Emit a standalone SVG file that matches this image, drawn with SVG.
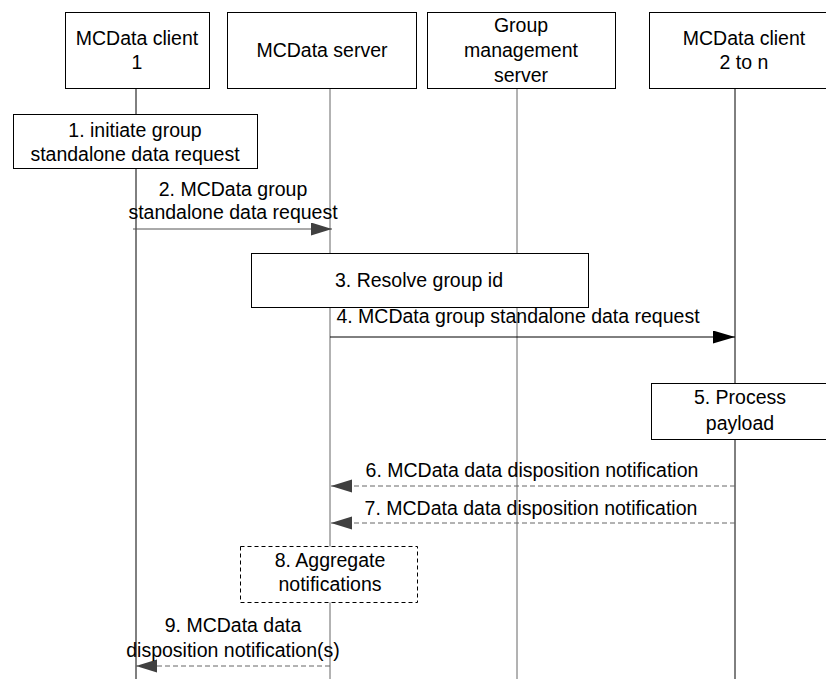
<svg xmlns="http://www.w3.org/2000/svg" width="826" height="679" viewBox="0 0 826 679">
<style>
text{font-family:"Liberation Sans",Arial,sans-serif;font-size:19.5px;fill:#000;text-anchor:middle}
.box{fill:#fff;stroke:#000;stroke-width:1}
.dbox{fill:#fff;stroke:#000;stroke-width:1;stroke-dasharray:4 3}
.life{stroke:#000;stroke-width:1;fill:none}
.lifeg{stroke:#666;stroke-width:1;fill:none}
.msg{stroke:#555;stroke-width:1;fill:none}
.msgb{stroke:#000;stroke-width:1;fill:none}
.dash{stroke:#666;stroke-width:1;fill:none;stroke-dasharray:5 3}
</style>
<defs>
<marker id="ag" markerWidth="22" markerHeight="14" refX="21" refY="6.5" orient="auto" markerUnits="userSpaceOnUse"><path d="M0,0 L21,6.5 L0,13 Z" fill="#404040"/></marker>
<marker id="ab" markerWidth="23" markerHeight="14" refX="22" refY="6.5" orient="auto" markerUnits="userSpaceOnUse"><path d="M0,0 L22,6.5 L0,13 Z" fill="#000"/></marker>
</defs>
<rect width="826" height="679" fill="#fff"/>
<g id="lifelines">
<line class="life" x1="136" y1="88" x2="136" y2="679"/>
<line class="lifeg" x1="330" y1="88" x2="330" y2="679"/>
<line class="lifeg" x1="517" y1="88" x2="517" y2="679"/>
<line class="life" x1="735" y1="88" x2="735" y2="679"/>
</g>
<g id="client1">
<rect class="box" x="65.5" y="12.5" width="144" height="76"/>
<text x="137" y="45">MCData client</text>
<text x="137" y="69">1</text>
</g>
<g id="server">
<rect class="box" x="227.5" y="12.5" width="189" height="76"/>
<text x="322" y="57">MCData server</text>
</g>
<g id="gms">
<rect class="box" x="427.5" y="12.5" width="188" height="76"/>
<text x="521" y="32">Group</text>
<text x="521" y="57">management</text>
<text x="521" y="82">server</text>
</g>
<g id="client2">
<rect class="box" x="649.5" y="12.5" width="190" height="76"/>
<text x="744" y="45">MCData client</text>
<text x="744" y="69">2 to n</text>
</g>
<g id="step1">
<rect class="box" x="13.5" y="114.5" width="244" height="54"/>
<text x="135" y="137">1. initiate group</text>
<text x="135" y="161">standalone data request</text>
</g>
<g id="step3">
<rect class="box" x="251.5" y="253.5" width="337" height="54"/>
<text x="419" y="287">3. Resolve group id</text>
</g>
<g id="step5">
<rect class="box" x="651.5" y="383.5" width="178" height="56"/>
<text x="740" y="404">5. Process</text>
<text x="740" y="430">payload</text>
</g>
<g id="step8">
<rect class="dbox" x="240.5" y="546.5" width="177" height="56"/>
<text x="330" y="567">8. Aggregate</text>
<text x="330" y="591">notifications</text>
</g>
<g id="connectors">
<line class="msg" x1="133" y1="229" x2="332" y2="229" marker-end="url(#ag)"/>
<line class="msgb" x1="330" y1="337" x2="735" y2="337" marker-end="url(#ab)"/>
<line class="dash" x1="735" y1="486" x2="331" y2="486" marker-end="url(#ag)"/>
<line class="dash" x1="735" y1="523" x2="331" y2="523" marker-end="url(#ag)"/>
<line class="dash" x1="330" y1="666" x2="136" y2="666" marker-end="url(#ag)"/>
</g>
<g id="labels">
<text x="233" y="196">2. MCData group</text>
<text x="233" y="219">standalone data request</text>
<text x="518" y="323">4. MCData group standalone data request</text>
<text x="532" y="477">6. MCData data disposition notification</text>
<text x="531" y="515">7. MCData data disposition notification</text>
<text x="233" y="632">9. MCData data</text>
<text x="233" y="657">disposition notification(s)</text>
</g>
</svg>
